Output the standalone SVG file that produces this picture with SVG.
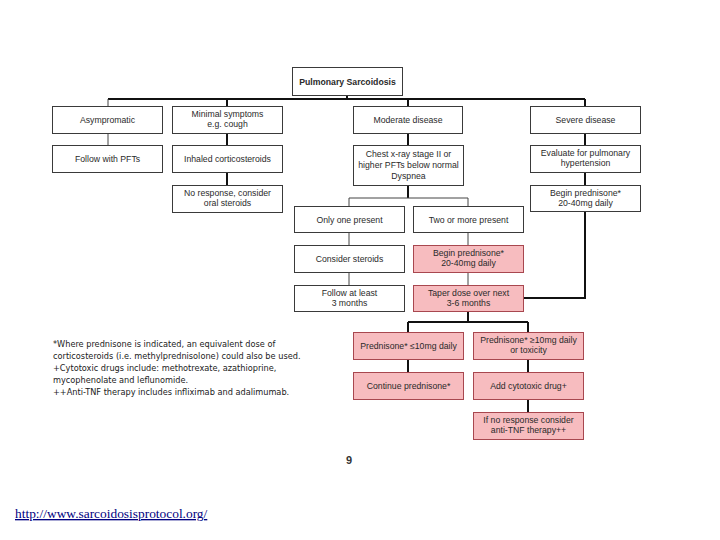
<svg xmlns="http://www.w3.org/2000/svg" width="720" height="540" viewBox="0 0 720 540">
<style>
.b{fill:#fff;stroke:#3a3a3a;stroke-width:1}
.p{fill:#f7bcbf;stroke:#a8474f;stroke-width:1}
.t{font-family:"Liberation Sans",Arial,sans-serif;font-size:8.7px;fill:#2a2a2a;text-anchor:middle}
.tt{font-weight:bold}
.k{stroke:#111;stroke-width:2;fill:none}
.g{stroke:#444;stroke-width:1;fill:none}
.f{font-family:"DejaVu Sans",Verdana,sans-serif;font-size:8.2px;fill:#222}
</style>
<rect width="720" height="540" fill="#fff"/>
<g id="connectors">
<path class="k" d="M347 95V99M108 99H585M227 99V106M408 99V106M585 99V106"/>
<path class="g" d="M108 99V106M108 133V145"/>
<path class="k" d="M227 133V145M227 172V185"/>
<path class="k" d="M408 133V145M408 185V198"/>
<path class="g" d="M349 198H468M349 198V206M468 198V206"/>
<path class="g" d="M349 232V245M349 272V285M468 232V245M468 272V285"/>
<path class="k" d="M585 133V145M585 172V185M585 211V298H523"/>
<path class="k" d="M468 311V322M408 322H528M408 322V332M528 322V332"/>
<path class="k" d="M408 359V372M528 359V372M528 399V412"/>
</g>
<g id="n_title"><rect class="b" x="292.5" y="67.5" width="110" height="28"/><text class="t tt" x="347.5" y="84.5">Pulmonary Sarcoidosis</text></g>
<g id="n_asym"><rect class="b" x="52.5" y="106.5" width="110" height="27"/><text class="t" x="107.5" y="123">Asympromatic</text></g>
<g id="n_minimal"><rect class="b" x="172.5" y="106.5" width="110" height="27"/><text class="t" x="227.5" y="117">Minimal symptoms</text><text class="t" x="227.5" y="127">e.g. cough</text></g>
<g id="n_moderate"><rect class="b" x="353.5" y="106.5" width="109" height="27"/><text class="t" x="408" y="123">Moderate disease</text></g>
<g id="n_severe"><rect class="b" x="530.5" y="106.5" width="110" height="27"/><text class="t" x="585.5" y="123">Severe disease</text></g>
<g id="n_pft"><rect class="b" x="52.5" y="145.5" width="110" height="27"/><text class="t" x="107.5" y="162">Follow with PFTs</text></g>
<g id="n_inhaled"><rect class="b" x="172.5" y="145.5" width="110" height="27"/><text class="t" x="227.5" y="162">Inhaled corticosteroids</text></g>
<g id="n_noresp"><rect class="b" x="172.5" y="185.5" width="110" height="27"/><text class="t" x="227.5" y="196">No response, consider</text><text class="t" x="227.5" y="206">oral steroids</text></g>
<g id="n_chest"><rect class="b" x="353.5" y="145.5" width="110" height="40"/><text class="t" x="408.5" y="157">Chest x-ray stage II or</text><text class="t" x="408.5" y="168">higher PFTs below normal</text><text class="t" x="408.5" y="179">Dyspnea</text></g>
<g id="n_eval"><rect class="b" x="530.5" y="145.5" width="110" height="27"/><text class="t" x="585.5" y="156">Evaluate for pulmonary</text><text class="t" x="585.5" y="166">hypertension</text></g>
<g id="n_beginR"><rect class="b" x="530.5" y="185.5" width="110" height="26"/><text class="t" x="585.5" y="196">Begin prednisone*</text><text class="t" x="585.5" y="206">20-40mg daily</text></g>
<g id="n_only"><rect class="b" x="294.5" y="206.5" width="110" height="26"/><text class="t" x="349.5" y="222.5">Only one present</text></g>
<g id="n_two"><rect class="b" x="413.5" y="206.5" width="110" height="26"/><text class="t" x="468.5" y="222.5">Two or more present</text></g>
<g id="n_consider"><rect class="b" x="294.5" y="245.5" width="110" height="27"/><text class="t" x="349.5" y="262">Consider steroids</text></g>
<g id="n_beginP"><rect class="p" x="413.5" y="245.5" width="110" height="27"/><text class="t" x="468.5" y="256">Begin prednisone*</text><text class="t" x="468.5" y="266">20-40mg daily</text></g>
<g id="n_follow"><rect class="b" x="294.5" y="285.5" width="110" height="26"/><text class="t" x="349.5" y="296">Follow at least</text><text class="t" x="349.5" y="306">3 months</text></g>
<g id="n_taper"><rect class="p" x="413.5" y="285.5" width="110" height="26"/><text class="t" x="468.5" y="296">Taper dose over next</text><text class="t" x="468.5" y="306">3-6 months</text></g>
<g id="n_ple"><rect class="p" x="353.5" y="332.5" width="110" height="27"/><text class="t" x="408.5" y="349">Prednisone* ≤10mg daily</text></g>
<g id="n_pge"><rect class="p" x="473.5" y="332.5" width="110" height="27"/><text class="t" x="528.5" y="343">Prednisone* ≥10mg daily</text><text class="t" x="528.5" y="353">or toxicity</text></g>
<g id="n_cont"><rect class="p" x="353.5" y="372.5" width="110" height="27"/><text class="t" x="408.5" y="389">Continue prednisone*</text></g>
<g id="n_add"><rect class="p" x="473.5" y="372.5" width="110" height="27"/><text class="t" x="528.5" y="389">Add cytotoxic drug+</text></g>
<g id="n_ifno"><rect class="p" x="473.5" y="412.5" width="110" height="27"/><text class="t" x="528.5" y="423">If no response consider</text><text class="t" x="528.5" y="433">anti-TNF therapy++</text></g>
<g id="footnote">
<text class="f" x="53" y="347">*Where prednisone is indicated, an equivalent dose of</text>
<text class="f" x="53" y="359">corticosteroids (i.e. methylprednisolone) could also be used.</text>
<text class="f" x="53" y="371">+Cytotoxic drugs include: methotrexate, azathioprine,</text>
<text class="f" x="53" y="383">mycophenolate and leflunomide.</text>
<text class="f" x="53" y="395">++Anti-TNF therapy includes infliximab and adalimumab.</text>
</g>
<text x="346" y="464" style="font-family:'Liberation Sans',Arial,sans-serif;font-size:11px;font-weight:bold;fill:#333">9</text>
<text x="15" y="518" style="font-family:'Liberation Serif','Times New Roman',serif;font-size:13.4px;fill:#000080;text-decoration:underline">http://www.sarcoidosisprotocol.org/</text>
</svg>
